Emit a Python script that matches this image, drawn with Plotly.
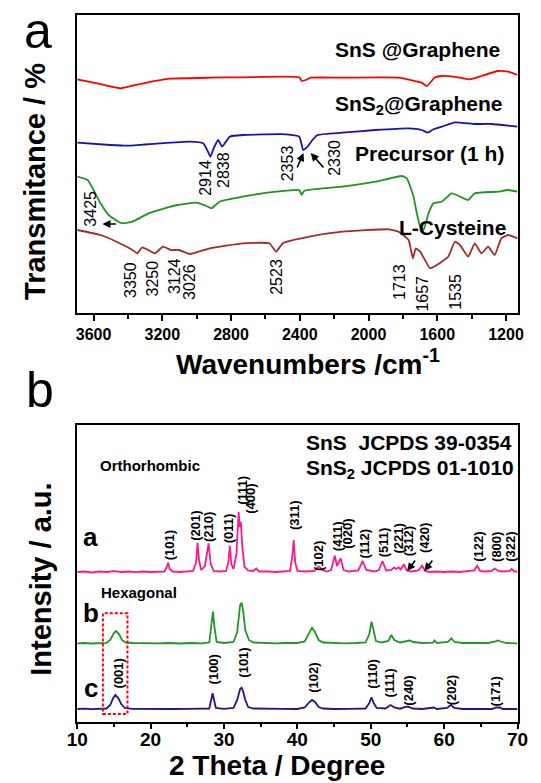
import plotly.graph_objects as go

# ---------------- Panel a : FTIR (wavenumber cm-1, transmittance a.u.) ----------------
wn_sns = [3695, 3579, 3444, 3310, 3155, 2923, 2731, 2403, 2388, 2365, 2336, 2153, 1825, 1690, 1661,
          1613, 1574, 1478, 1410, 1343, 1246, 1188, 1133]
t_sns = [233.7, 229.7, 224.7, 229.7, 234.3, 235.3, 235.7, 235.7, 232, 233, 235.3, 235.3, 235.3, 230.3, 227,
         235.7, 237, 235.7, 233.7, 237, 242, 241.3, 238]

wn_sns2 = [3695, 3502, 3406, 3213, 3039, 2962, 2934, 2920, 2901, 2875, 2852, 2808, 2731, 2480, 2403, 2380,
           2355, 2326, 2297, 2153, 1960, 1767, 1690, 1655, 1622, 1574, 1497, 1382, 1285, 1133]
t_sns2 = [170.3, 168, 167.3, 169.7, 171.3, 169.7, 161.3, 156.3, 164.7, 173, 166.3, 176.3, 178, 178.7, 176.3, 163,
          166.3, 173, 178, 180.3, 183, 184.7, 183, 180.3, 183.7, 186.3, 190.7, 189, 189, 186.3]

wn_pre = [3695, 3634, 3606, 3559, 3512, 3456, 3428, 3373, 3280, 3187, 3112, 3001, 2943, 2914, 2866, 2731,
          2538, 2403, 2389, 2374, 2153, 1960, 1806, 1777, 1738, 1719, 1699, 1680, 1651, 1622, 1574, 1516,
          1487, 1420, 1382, 1246, 1188, 1133]
t_pre = [136.3, 133, 125, 109.7, 98, 91.3, 89.7, 91.3, 99.7, 104.7, 108, 110.3, 107, 104.7, 111.3, 116.3,
         121.3, 123, 118, 122.3, 126.3, 131.3, 137, 134.7, 116.3, 99.7, 86.3, 83, 99.7, 109.7, 111.3, 119.7,
         118, 113, 119.7, 121.3, 123, 121.3]

wn_cys = [3695, 3559, 3466, 3373, 3345, 3317, 3289, 3242, 3196, 3149, 3103, 3039, 2923, 2731, 2577, 2538,
          2499, 2345, 2153, 1883, 1825, 1767, 1742, 1725, 1699, 1642, 1603, 1574, 1536, 1497, 1468, 1420,
          1382, 1343, 1304, 1266, 1227, 1188, 1133]
t_cys = [83, 78, 71.3, 63, 59.7, 65.7, 63.7, 59.7, 66.3, 63, 63, 59, 64.7, 69.7, 69.7, 61.3,
         69.7, 76.3, 81.3, 83.7, 81.3, 73, 54.7, 64.7, 61.3, 44.7, 48, 51.3, 56.3, 71.3, 68, 56.3,
         69.7, 59.7, 66.3, 58, 74.7, 78, 74.7]

ftir_names = ["SnS @Graphene", "SnS<sub>2</sub>@Graphene", "Precursor (1 h)", "L-Cysteine"]
ftir_peaks_top = ["2914", "2838", "2353", "2330", "3425"]
ftir_peaks_bottom = ["3350", "3250", "3124", "3026", "2523", "1713", "1657", "1535"]
ftir_xticks = [3600, 3200, 2800, 2400, 2000, 1600, 1200]

# ---------------- Panel b : XRD (2 theta, intensity a.u.) ----------------
tt_a = [10, 11, 12, 13, 14, 15, 16, 17, 18, 19, 20, 21, 21.9, 22.2, 22.4, 22.6, 23, 24, 25, 25.8, 26.2, 26.4,
        26.6, 26.9, 27.4, 27.9, 28.2, 28.6, 29.5, 30.3, 30.6, 30.8, 31.0, 31.3, 31.7, 32.0, 32.15, 32.3, 32.5,
        32.8, 33.3, 34.0, 34.4, 34.8, 36, 37, 38, 39.0, 39.3, 39.5, 39.7, 40.0, 41, 42.3, 42.8, 43.0, 43.4, 44,
        44.6, 45.1, 45.4, 45.9, 46.3, 47, 48.3, 48.9, 49.4, 50.5, 51.1, 51.6, 52.1, 52.8, 53.2, 53.5, 53.8,
        54.1, 54.5, 54.9, 55.5, 56.5, 57.0, 57.4, 58, 59, 60, 61, 62, 63, 64.1, 64.5, 64.9, 65.5, 66.4, 66.9,
        67.4, 68, 68.9, 69.2, 69.6, 70]
int_a = [150, 150.5, 149.5, 150.5, 150, 150.8, 150, 150.5, 149.8, 150.5, 150, 150.5, 150.5, 155, 159.3, 153,
         150.5, 150, 150.5, 151, 160, 179.3, 162, 152, 156, 178.7, 158, 151, 150.5, 151, 160, 176.3, 158, 153,
         168, 210.3, 195, 200.3, 175, 155, 151.5, 151, 153.5, 150.5, 150.5, 150, 150.5, 151, 165, 182, 160,
         151, 150.5, 151, 155, 155.5, 152, 150.5, 152, 166.3, 156, 163.7, 152, 150.5, 151.5, 161, 152, 150.5,
         152, 161, 151.5, 152, 154.5, 153, 154.5, 152.5, 157.7, 151.5, 150.5, 151.5, 156.3, 151, 150, 150.5,
         150, 150.5, 150, 150.5, 151.5, 156.3, 151, 150.5, 151, 153.5, 151, 150.5, 151, 153, 150.5, 150.5]

tt_b = [10, 11, 12, 13, 14, 14.5, 15.0, 15.3, 15.7, 16.1, 16.6, 17.5, 18.5, 19.5, 21, 22.5, 24, 25.5, 27,
        28.0, 28.3, 28.5, 28.7, 29.0, 30, 31.3, 31.8, 32.2, 32.4, 32.6, 32.9, 33.4, 34, 35.5, 37, 38.5, 40,
        41, 41.6, 42.0, 42.4, 42.9, 43.5, 45, 46.5, 48, 49.3, 49.8, 50.1, 50.35, 50.7, 51.5, 52.4, 52.8, 53.2,
        54, 54.8, 55.3, 55.8, 57, 58.5, 58.7, 59.0, 60.5, 61.0, 61.4, 62.5, 64, 66, 67.0, 67.3, 67.7, 68.5, 70]
int_b = [78.7, 79, 78.5, 79, 79.2, 82, 89, 91, 88, 82, 79.5, 79, 78.7, 79, 78.7, 79, 78.5, 79, 78.7,
         79.5, 100, 110.3, 95, 80, 79, 80, 90, 117, 119.3, 112, 92, 82, 79.5, 79, 78.7, 79, 79,
         80.5, 89, 94.3, 90, 82, 79.5, 79, 78.7, 79, 79.5, 88, 100.3, 93, 81, 79.5, 81, 87, 82,
         79.5, 80.5, 81.5, 80, 79, 79.3, 81.5, 79, 80, 83.7, 80, 79, 78.7, 79, 80.5, 81.5, 80.5, 79, 78.7]

tt_c = [10, 11, 12, 13, 14, 14.5, 14.9, 15.2, 15.6, 16.0, 16.5, 17.5, 19, 21, 23, 25, 27, 28.0, 28.25, 28.45,
        28.65, 28.9, 30, 31.3, 31.8, 32.2, 32.4, 32.6, 32.9, 33.3, 34, 36, 38, 40, 41, 41.6, 42.0, 42.4, 42.9,
        43.5, 45, 47, 49.3, 49.8, 50.1, 50.4, 50.8, 52, 52.7, 53.2, 54, 54.8, 55.2, 55.7, 57, 58.6, 59, 60.4,
        60.9, 61.4, 62.5, 64.5, 66.5, 67.1, 67.6, 68, 70]
int_c = [13, 13.3, 12.8, 13.2, 13.5, 17, 24, 27, 24, 18, 14, 13.2, 13, 13.2, 13, 13.2, 13, 13.5, 22, 28.7,
         22, 14, 13.2, 14, 22, 33, 34.3, 31, 22, 15, 13.5, 13, 13.2, 13, 14.5, 19.5, 22, 20, 15,
         13.5, 13, 13.2, 13.5, 19, 24.7, 19, 14, 13.5, 17, 14.5, 13.3, 15.3, 15, 13.5, 13, 14.5, 13, 14,
         17, 14, 13, 13.2, 13, 14.5, 14.5, 13, 13]

hkl_a = ["(101)", "(201)", "(210)", "(011)", "(111)", "(400)", "(311)", "(102)", "(411)", "(020)",
         "(112)", "(511)", "(221)", "(312)", "(420)", "(122)", "(800)", "(322)"]
hkl_c = ["(001)", "(100)", "(101)", "(102)", "(110)", "(111)", "(240)", "(202)", "(171)"]
xrd_xticks = [10, 20, 30, 40, 50, 60, 70]

# ---------------- layout helpers (page pixels) ----------------
W, H = 541, 783
FONT = "Liberation Sans, Arial, sans-serif"


def px(x):
    return x / W


def py(y):
    return 1 - y / H


fig = go.Figure()

ftir_colors = ["#ff0000", "#1414b4", "#1f961f", "#a52a2a"]
for xs, ys, c in [(wn_sns, t_sns, ftir_colors[0]), (wn_sns2, t_sns2, ftir_colors[1]),
                  (wn_pre, t_pre, ftir_colors[2]), (wn_cys, t_cys, ftir_colors[3])]:
    fig.add_trace(go.Scatter(x=xs, y=ys, xaxis="x", yaxis="y", mode="lines",
                             line=dict(color=c, width=1.8, shape="spline", smoothing=0.4),
                             hoverinfo="skip"))

xrd_colors = ["#ff1a8c", "#22962a", "#1a1a8c"]
for xs, ys, c in [(tt_a, int_a, xrd_colors[0]), (tt_b, int_b, xrd_colors[1]), (tt_c, int_c, xrd_colors[2])]:
    fig.add_trace(go.Scatter(x=xs, y=ys, xaxis="x2", yaxis="y2", mode="lines",
                             line=dict(color=c, width=1.8), hoverinfo="skip"))

ann = []


def text(x, y, s, size, bold=False, angle=0, xanchor="center", yanchor="middle", color="black"):
    ann.append(dict(x=px(x), y=py(y), xref="paper", yref="paper", text=s, showarrow=False,
                    textangle=angle, xanchor=xanchor, yanchor=yanchor,
                    font=dict(family=FONT, size=size, color=color, weight="bold" if bold else "normal")))


# panel letters
text(28, 31, "a", 50)
text(30, 390, "b", 50)

# axis titles
text(25, 181, "Transmitance / %", 29, bold=True, angle=-90)
text(31, 579, "Intensity / a.u.", 29, bold=True, angle=-90)
text(310, 362, "Wavenumbers /cm<sup>-1</sup>", 28, bold=True)
text(277, 783, "2 Theta / Degree", 28, bold=True, yanchor="bottom")

# FTIR curve names
text(512, 50, ftir_names[0], 21, bold=True, xanchor="right")
text(515, 105, ftir_names[1], 21, bold=True, xanchor="right")
text(516, 153, ftir_names[2], 21, bold=True, xanchor="right")
text(518, 227, ftir_names[3], 21, bold=True, xanchor="right")

# FTIR peak labels (rotated)
top_pos = [(202, 178), (221, 170), (288, 163), (336.5, 158), (82, 209)]
for s, (x, y) in zip(ftir_peaks_top, top_pos):
    text(x, y, s, 16, angle=-90)
bot_pos = [(124, 280), (148.5, 278), (170, 276), (186.5, 282), (276, 277), (405.5, 282), (428, 294), (462.5, 292)]
for s, (x, y) in zip(ftir_peaks_bottom, bot_pos):
    text(x, y, s, 16, angle=-90)

# FTIR arrows (head at the band, tail offset in px)
arrow_style = dict(showarrow=True, arrowhead=2, arrowsize=1, arrowwidth=1.6, arrowcolor="black", text="",
                   axref="pixel", ayref="pixel")
ann.append(dict(x=2378, y=160, xref="x", yref="y", ax=-7, ay=16, **arrow_style))
ann.append(dict(x=2336, y=160, xref="x", yref="y", ax=14, ay=16, **arrow_style))
ann.append(dict(x=3548, y=89, xref="x", yref="y", ax=15, ay=0, **arrow_style))

# XRD texts
text(305, 443, "SnS  JCPDS 39-0354", 21, bold=True, xanchor="left")
text(305, 469, "SnS<sub>2</sub> JCPDS 01-1010", 21, bold=True, xanchor="left")
text(91, 466, "Orthorhombic", 15, bold=True, xanchor="left")
text(92, 592, "Hexagonal", 15, bold=True, xanchor="left")
text(83, 537, "a", 26, bold=True)
text(83, 613, "b", 26, bold=True)
text(83, 688, "c", 26, bold=True)

hkl_a_pos = [(165, 545), (191.5, 526), (206, 527.5), (227, 528.5), (240.5, 490), (249, 499), (295, 515),
             (320, 556), (340, 536), (350, 534), (367.5, 544), (388, 542), (403, 539), (414, 541),
             (431, 537.5), (486.5, 547), (505.5, 547), (520, 547)]
for s, (x, y) in zip(hkl_a, hkl_a_pos):
    text(x, y, s, 13, bold=True, angle=-90)
hkl_c_pos = [(112, 673), (211, 669), (241.5, 663), (314.5, 678), (376, 674), (395, 682.5), (414, 690.5),
             (459, 690), (505.5, 691.5)]
for s, (x, y) in zip(hkl_c, hkl_c_pos):
    text(x, y, s, 13, bold=True, angle=-90)

ann.append(dict(x=54.97, y=151, xref="x2", yref="y2", ax=9, ay=-12, **arrow_style))
ann.append(dict(x=57.32, y=151, xref="x2", yref="y2", ax=9, ay=-12, **arrow_style))

shapes = [dict(type="rect", xref="x2", yref="y2", x0=13.5, x1=16.85, y0=8, y1=108.7,
               line=dict(color="red", width=2, dash="3px,2px"))]

axis_line = dict(showline=True, linecolor="black", linewidth=1.6, mirror=True, showgrid=False, zeroline=False)

fig.update_layout(
    width=W, height=H, margin=dict(l=0, r=0, t=0, b=0),
    paper_bgcolor="white", plot_bgcolor="white", showlegend=False,
    xaxis=dict(domain=[px(69), px(528)], range=[3695, 1133], anchor="y",
               tickvals=ftir_xticks, ticks="outside", ticklen=6, tickwidth=1.6, tickcolor="black",
               tickfont=dict(family=FONT, size=16, color="black", weight="bold"),
               minor=dict(tickvals=[3400, 3000, 2600, 2200, 1800, 1400], ticks="outside", ticklen=4,
                          tickwidth=1.6, tickcolor="black"),
               **axis_line),
    yaxis=dict(domain=[py(313), py(15)], range=[0, 298], anchor="x", showticklabels=False, ticks="",
               **axis_line),
    xaxis2=dict(domain=[px(69), px(528)], range=[10, 70], anchor="y2",
                tickvals=xrd_xticks, ticks="outside", ticklen=5, tickwidth=1.6, tickcolor="black",
                ticklabelstandoff=-6,
                tickfont=dict(family=FONT, size=19, color="black", weight="bold"),
                minor=dict(tickvals=[15, 25, 35, 45, 55, 65], ticks="outside", ticklen=3, tickwidth=1.6,
                           tickcolor="black"),
                **axis_line),
    yaxis2=dict(domain=[py(722), py(425)], range=[0, 297], anchor="x2", showticklabels=False, ticks="",
                **axis_line),
    annotations=ann, shapes=shapes,
)

fig.write_html("out.html",
               post_script="document.body.style.margin='0';document.body.style.overflow='hidden';")
